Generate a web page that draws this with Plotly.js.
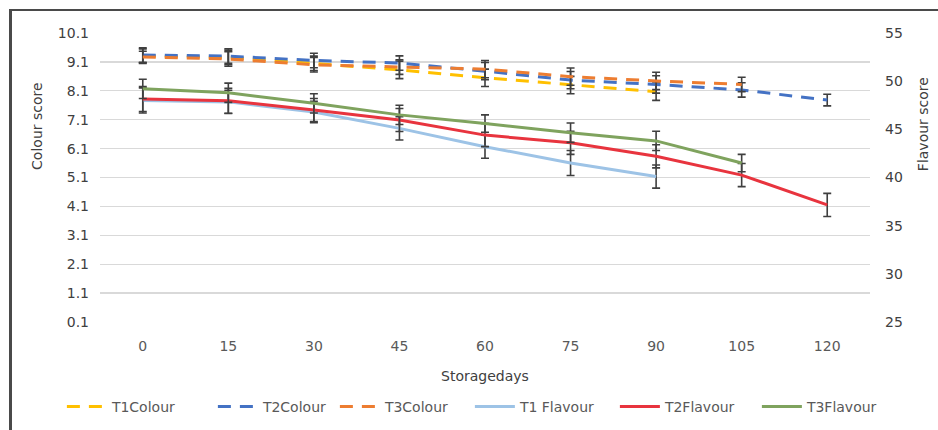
<!DOCTYPE html>
<html>
<head>
<meta charset="utf-8">
<script src="https://cdn.plot.ly/plotly-3.0.1.min.js"></script>
<style>
  html, body { margin: 0; padding: 0; background: #fff; }
  #wrap { position: relative; width: 938px; height: 430px; overflow: hidden; }
  #chart { position: absolute; left: 0; top: 0; width: 938px; height: 430px; }
  #frame { position: absolute; left: 9px; top: 9px; width: 940px; height: 440px;
           border-top: 2px solid #4a4a4a; border-left: 3px solid #4a4a4a; pointer-events: none; }
</style>
</head>
<body>
<div id="wrap"><div id="chart"></div><div id="frame"></div></div>
<script>
const days = ["0", "15", "30", "45", "60", "75", "90", "105", "120"];

const t1Colour = [9.30, 9.25, 9.05, 8.82, 8.55, 8.30, 8.07];
const t2Colour = [9.34, 9.30, 9.15, 9.06, 8.78, 8.47, 8.32, 8.13, 7.78];
const t3Colour = [9.27, 9.20, 9.00, 8.92, 8.85, 8.59, 8.44, 8.32];

const t1ColourErr = [0.25, 0.25, 0.25, 0.30, 0.30, 0.30, 0.30];
const t2ColourErr = [0.25, 0.25, 0.25, 0.25, 0.30, 0.30, 0.30, 0.25, 0.20];
const t3ColourErr = [0.20, 0.25, 0.25, 0.25, 0.30, 0.30, 0.30, 0.25];

const t1Flavour = [48.0, 47.85, 46.8, 45.1, 43.2, 41.5, 40.1];
const t2Flavour = [48.15, 47.97, 47.0, 45.97, 44.4, 43.6, 42.2, 40.25, 37.15];
const t3Flavour = [49.2, 48.8, 47.7, 46.5, 45.6, 44.65, 43.8, 41.5];

const t1FlavourErr = [1.3, 1.2, 1.1, 1.2, 1.2, 1.3, 1.2];
const t2FlavourErr = [1.3, 1.3, 1.2, 1.2, 1.2, 1.2, 1.2, 1.2, 1.2];
const t3FlavourErr = [1.0, 1.0, 1.0, 1.0, 0.9, 1.0, 1.0, 0.9];

const colourTicks = [0.1, 1.1, 2.1, 3.1, 4.1, 5.1, 6.1, 7.1, 8.1, 9.1, 10.1];
const flavourTicks = [25, 30, 35, 40, 45, 50, 55];

const FONT = "DejaVu Sans, Open Sans, sans-serif";
const TXT = "#595959";

function errBar(arr) {
  return { type: "data", array: arr, visible: true, color: "#3f3f3f", thickness: 1.6, width: 4 };
}
function series(name, y, err, color, dashed, axis, lw) {
  return {
    type: "scatter", mode: "lines", name: name,
    x: days.slice(0, y.length), y: y,
    yaxis: axis,
    line: { color: color, width: 3, dash: dashed ? "13px,9px" : "solid" },
    error_y: errBar(err),
    legendwidth: lw,
    hoverinfo: "x+y+name"
  };
}

const data = [
  series("T1Colour", t1Colour, t1ColourErr, "#FFC000", true, "y", 96),
  series("T2Colour", t2Colour, t2ColourErr, "#4472C4", true, "y", 67),
  series("T3Colour", t3Colour, t3ColourErr, "#ED7D31", true, "y", 80),
  series("T1 Flavour", t1Flavour, t1FlavourErr, "#9DC3E6", false, "y2", 90),
  series("T2Flavour", t2Flavour, t2FlavourErr, "#E8343E", false, "y2", 87),
  series("T3Flavour", t3Flavour, t3FlavourErr, "#7FA35E", false, "y2", 85)
];

const layout = {
  width: 938, height: 430,
  margin: { l: 100, r: 68, t: 33, b: 108, autoexpand: false },
  paper_bgcolor: "#ffffff", plot_bgcolor: "#ffffff",
  font: { family: FONT, size: 13, color: TXT },
  showlegend: true,
  legend: {
    orientation: "h", x: -0.0495, xanchor: "left", y: -0.294, yanchor: "middle",
    font: { family: FONT, size: 14, color: TXT }, itemwidth: 40, tracegroupgap: 0
  },
  xaxis: {
    type: "category", range: [-0.5, 8.5],
    showgrid: false, zeroline: false, showline: false, ticks: "",
    tickfont: { family: FONT, size: 14, color: TXT },
    ticklabelstandoff: 14,
    title: { text: "Storagedays", font: { family: FONT, size: 14, color: "#404040" }, standoff: 18 }
  },
  yaxis: {
    range: [0.1, 10.1], tickvals: colourTicks, ticktext: colourTicks.map(v => v.toFixed(1)),
    showgrid: true, gridcolor: "#d9d9d9", gridwidth: 1.3,
    zeroline: false, showline: false, ticks: "",
    tickfont: { family: FONT, size: 14, color: "#404040" },
    ticklabelstandoff: 10
  },
  yaxis2: {
    range: [25, 55], tickvals: flavourTicks, overlaying: "y", side: "right",
    showgrid: false, zeroline: false, showline: false, ticks: "",
    tickfont: { family: FONT, size: 14, color: "#404040" },
    ticklabelstandoff: 14
  },
  annotations: [
    { text: "Colour score", xref: "paper", yref: "paper", x: -0.082, y: 0.678,
      textangle: -90, showarrow: false, xanchor: "center", yanchor: "middle",
      font: { family: FONT, size: 14, color: "#404040" } },
    { text: "Flavour score", xref: "paper", yref: "paper", x: 1.069, y: 0.685,
      textangle: -90, showarrow: false, xanchor: "center", yanchor: "middle",
      font: { family: FONT, size: 14, color: "#404040" } }
  ]
};

Plotly.newPlot("chart", data, layout, { displayModeBar: false, staticPlot: true });
</script>
</body>
</html>
